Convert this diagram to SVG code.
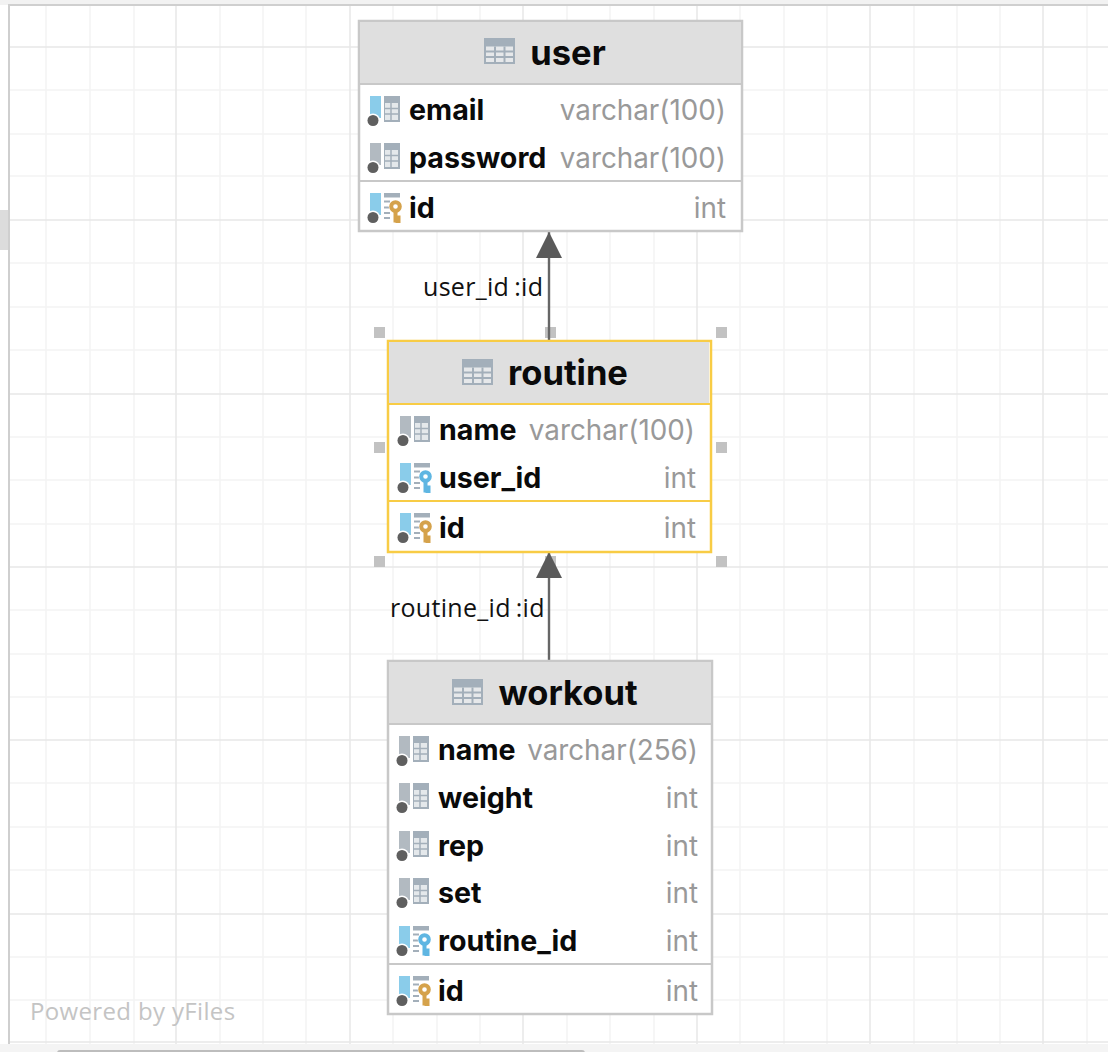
<svg xmlns="http://www.w3.org/2000/svg" width="1108" height="1052" viewBox="0 0 1108 1052">
<style>
.minor{stroke:#f3f3f3;stroke-width:1.500;fill:none}
.major{stroke:#e8e8e8;stroke-width:1.500;fill:none}
.box{fill:#fff;stroke:#c8c8c8;stroke-width:2.500}
.head{fill:#dfdfdf}
.sep{stroke:#c8c8c8;stroke-width:2}
.sel .box{stroke:#f8cc45}
.sel .sep{stroke:#f8cc45}
.title{font:700 34.500px Inter,"Liberation Sans",sans-serif;fill:#0a0a0a;text-anchor:middle}
.col{font:700 28.600px Inter,"Liberation Sans",sans-serif;fill:#0a0a0a}
.type{font:400 27.800px Inter,"Liberation Sans",sans-serif;fill:#999;text-anchor:end}
.lbl{font:400 25px "Open Sans","Noto Sans",sans-serif;fill:#111;letter-spacing:.3px}
.handle{fill:#c2c2c2}
.edge{stroke:#666;stroke-width:2.400;fill:none}
.wm{font:400 24px "Open Sans","Noto Sans",sans-serif;fill:#c4c4c4;letter-spacing:.35px}
</style>
<defs>
<g id="ttl"><rect x="0" y="0" width="31" height="26" fill="#a3afba"/><path d="M2 8.500H29V24H2z" fill="#e6e8ea"/><path d="M2 13.500H29M2 19H29M11 8.500V24M20.500 8.500V24" stroke="#a3afba" stroke-width="2" fill="none"/></g>
<g id="grid"><rect x="14" y="0" width="16" height="26" fill="#a3afba"/><rect x="15" y="7" width="13" height="17" fill="#e4e8eb"/><path d="M15 12.500H28M15 18H28M21 7V24" stroke="#a3afba" stroke-width="1.500" fill="none"/></g>
<g id="dot"><circle cx="3" cy="24.500" r="7" fill="#fff"/><circle cx="3" cy="24.500" r="5.500" fill="#5f5f5f"/></g>
<g id="blue"><rect x="0" y="0" width="11" height="22" fill="#8accea"/></g>
<g id="gray"><rect x="0" y="0" width="11" height="22" fill="#b2bac1"/></g>
<g id="icoBlue"><use href="#grid"/><use href="#blue"/><use href="#dot"/></g>
<g id="icoGray"><use href="#grid"/><use href="#gray"/><use href="#dot"/></g>
<g id="keyShape"><circle cx="25.500" cy="13.500" r="6.800" fill="#fff"/><circle cx="25.500" cy="13.500" r="4.300" fill="#fff" stroke="currentColor" stroke-width="4"/><path d="M25.500 18V29.500M25.500 24.500H30.500M25.500 28H30.500" stroke="currentColor" stroke-width="4" fill="none"/></g>
<g id="keyBase"><rect x="14" y="0" width="16" height="4.500" fill="#a3afba"/><path d="M14 8.500H20M14 14.500H20M14 20H20M14 25H20" stroke="#a3afba" stroke-width="2" fill="none"/><use href="#blue"/><use href="#dot"/></g>
<g id="pk" color="#d5a24b"><use href="#keyBase"/><use href="#keyShape"/></g>
<g id="fk" color="#5fb6e2"><use href="#keyBase"/><use href="#keyShape"/></g>
<marker id="arrow" viewBox="0 0 26 26" refX="26" refY="13" markerWidth="26" markerHeight="26" markerUnits="userSpaceOnUse" orient="auto"><path d="M0 0L26 13L0 26z" fill="#5a5a5a"/></marker>
</defs>
<rect width="1108" height="1052" fill="#fff"/>
<g id="grid-lines">
<path class="minor" d="M46 6V1044M90 6V1044M134 6V1044M220 6V1044M263 6V1044M306 6V1044M393 6V1044M437 6V1044M480 6V1044M567 6V1044M610 6V1044M654 6V1044M740 6V1044M784 6V1044M827 6V1044M914 6V1044M957 6V1044M1000 6V1044M1087 6V1044"/>
<path class="minor" d="M10 90H1108M10 134H1108M10 176H1108M10 263H1108M10 307H1108M10 350H1108M10 437H1108M10 480H1108M10 524H1108M10 610H1108M10 654H1108M10 697H1108M10 783H1108M10 827H1108M10 870H1108M10 957H1108M10 1000H1108"/>
<path class="major" d="M176 6V1044M350 6V1044M523 6V1044M697 6V1044M870 6V1044M1043 6V1044"/>
<path class="major" d="M10 47H1108M10 220H1108M10 394H1108M10 567H1108M10 740H1108M10 914H1108M10 1042H1108"/>
</g>
<g id="chrome">
<rect x="0" y="0" width="1108" height="5" fill="#f2f2f2"/>
<rect x="9" y="4" width="1099" height="2" fill="#cfcfcf"/>
<rect x="8" y="4" width="2" height="1040" fill="#cfcfcf"/>
<rect x="0" y="210" width="8" height="40" fill="#dcdcdc"/>
<rect x="0" y="1044" width="1108" height="8" fill="#f4f4f4"/>
<rect x="57" y="1050" width="528" height="6" rx="3" fill="#bdbdbd"/>
</g>
<g id="handles">
<rect class="handle" x="374" y="327" width="11" height="11"/><rect class="handle" x="545" y="327" width="11" height="11"/><rect class="handle" x="716" y="327" width="11" height="11"/>
<rect class="handle" x="374" y="442" width="11" height="11"/><rect class="handle" x="716" y="442" width="11" height="11"/>
<rect class="handle" x="374" y="556" width="11" height="11"/><rect class="handle" x="545" y="556" width="11" height="11"/><rect class="handle" x="716" y="556" width="11" height="11"/>
</g>
<g id="connectors">
<path class="edge" d="M549 340V232" marker-end="url(#arrow)"/>
<path class="edge" d="M549 660V552" marker-end="url(#arrow)"/>
<text class="lbl" x="423" y="296">user_id<tspan dx="5">:id</tspan></text>
<text class="lbl" x="390" y="617">routine_id<tspan dx="5">:id</tspan></text>
</g>
<g id="node-user">
<rect class="box" x="359" y="21" width="383" height="210"/>
<rect class="head" x="360" y="22" width="381" height="61"/>
<path class="sep" d="M359 84H742M359 181H742"/>
<use href="#ttl" x="484" y="38"/>
<text class="title" x="568" y="65">user</text>
<use href="#icoBlue" x="370" y="96"/><text class="col" x="409" y="119.500">email</text><text class="type" x="726" y="119.500">varchar(100)</text>
<use href="#icoGray" x="370" y="143"/><text class="col" x="409" y="167.500">password</text><text class="type" x="726" y="167.500">varchar(100)</text>
<use href="#pk" x="370" y="193"/><text class="col" x="409" y="217.500">id</text><text class="type" x="726" y="217.500">int</text>
</g>
<g id="node-routine" class="sel">
<rect class="box" x="388" y="341" width="323" height="211"/>
<rect class="head" x="389" y="342" width="320" height="61"/>
<path class="sep" d="M388 404H711M388 501H711"/>
<use href="#ttl" x="462" y="359"/>
<text class="title" x="568" y="385">routine</text>
<use href="#icoGray" x="400" y="416"/><text class="col" x="439" y="439.500">name</text><text class="type" x="695" y="439.500">varchar(100)</text>
<use href="#fk" x="400" y="463"/><text class="col" x="439" y="487.500">user_id</text><text class="type" x="696" y="487.500">int</text>
<use href="#pk" x="400" y="513"/><text class="col" x="439" y="537.500">id</text><text class="type" x="696" y="537.500">int</text>
</g>
<g id="node-workout">
<rect class="box" x="388" y="661" width="324" height="353"/>
<rect class="head" x="389" y="662" width="322" height="61"/>
<path class="sep" d="M388 724H712M388 964H712"/>
<use href="#ttl" x="452" y="679"/>
<text class="title" x="568" y="705">workout</text>
<use href="#icoGray" x="399" y="736"/><text class="col" x="438" y="759.500">name</text><text class="type" x="698" y="759.500">varchar(256)</text>
<use href="#icoGray" x="399" y="783"/><text class="col" x="438" y="807.500">weight</text><text class="type" x="698" y="807.500">int</text>
<use href="#icoGray" x="399" y="831"/><text class="col" x="438" y="855.500">rep</text><text class="type" x="698" y="855.500">int</text>
<use href="#icoGray" x="399" y="878"/><text class="col" x="438" y="902.500">set</text><text class="type" x="698" y="902.500">int</text>
<use href="#fk" x="399" y="926"/><text class="col" x="438" y="950.500">routine_id</text><text class="type" x="698" y="950.500">int</text>
<use href="#pk" x="399" y="976"/><text class="col" x="438" y="1000.500">id</text><text class="type" x="698" y="1000.500">int</text>
</g>
<text class="wm" x="30" y="1020">Powered by yFiles</text>
</svg>
